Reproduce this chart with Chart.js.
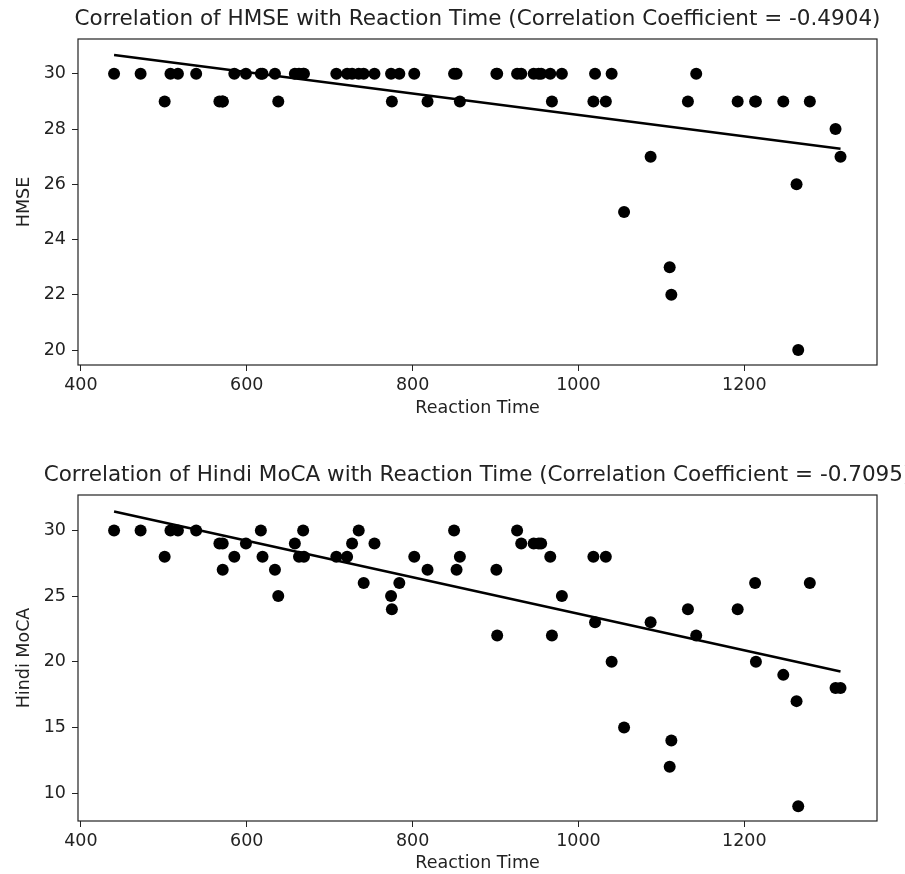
<!DOCTYPE html>
<html>
<head>
<meta charset="utf-8">
<script src="https://cdn.jsdelivr.net/npm/chart.js@4"></script>
<style>
  html, body { margin: 0; padding: 0; background: #fff; }
  canvas { display: block; }
</style>
</head>
<body>
<canvas id="hmseChart" width="905" height="437"></canvas>
<canvas id="mocaChart" width="905" height="437"></canvas>
<script>
// one entry per participant, same order in every array
const reactionTime = [440, 472, 501, 508, 517, 539, 567, 571, 571, 585, 599, 617, 619, 634, 638,
    658, 663, 668, 669, 708, 721, 727, 735, 741, 754, 774, 775, 784, 802, 818, 850, 853, 857,
    901, 902, 926, 931, 946, 952, 955, 966, 968, 980, 1018, 1020, 1033, 1040, 1055, 1087, 1110,
    1112, 1132, 1142, 1192, 1213, 1214, 1247, 1263, 1265, 1279, 1310, 1316];
const hmse = [30, 30, 29, 30, 30, 30, 29, 29, 29, 30, 30, 30, 30, 30, 29,
    30, 30, 30, 30, 30, 30, 30, 30, 30, 30, 30, 29, 30, 30, 29, 30, 30, 29,
    30, 30, 30, 30, 30, 30, 30, 30, 29, 30, 29, 30, 29, 30, 25, 27, 23,
    22, 29, 30, 29, 29, 29, 29, 26, 20, 29, 28, 27];
const hindiMoca = [30, 30, 28, 30, 30, 30, 29, 29, 27, 28, 29, 30, 28, 27, 25,
    29, 28, 30, 28, 28, 28, 29, 30, 26, 29, 25, 24, 26, 28, 27, 30, 27, 28,
    27, 22, 30, 29, 29, 29, 29, 28, 22, 25, 28, 23, 28, 20, 15, 23, 12,
    14, 24, 22, 24, 26, 20, 19, 17, 9, 26, 18, 18];

const xTicks = [400, 600, 800, 1000, 1200];
const hmseTicks = [20, 22, 24, 26, 28, 30];
const mocaTicks = [10, 15, 20, 25, 30];

const hmseTitle = 'Correlation of HMSE with Reaction Time (Correlation Coefficient = -0.4904)';
const mocaTitle = 'Correlation of Hindi MoCA with Reaction Time (Correlation Coefficient = -0.7095)';

const FONT = '"DejaVu Sans", sans-serif';
const INK = '#222';

// least squares line through the points, like np.polyfit(x, y, 1)
function fitLine(xs, ys) {
    const n = xs.length;
    const mx = xs.reduce((a, b) => a + b, 0) / n;
    const my = ys.reduce((a, b) => a + b, 0) / n;
    let sxy = 0, sxx = 0;
    xs.forEach((x, i) => { sxy += (x - mx) * (ys[i] - my); sxx += (x - mx) * (x - mx); });
    const m = sxy / sxx;
    const b = my - m * mx;
    const lo = Math.min(...xs), hi = Math.max(...xs);
    return [{ x: lo, y: m * lo + b }, { x: hi, y: m * hi + b }];
}

// matplotlib style frame + title centred over the axes
const framePlugin = {
    id: 'frame',
    afterDraw(chart, args, opts) {
        const { ctx, chartArea: a } = chart;
        ctx.save();
        ctx.strokeStyle = INK;
        ctx.lineWidth = 1.2;
        ctx.strokeRect(a.left, a.top, a.right - a.left, a.bottom - a.top);
        ctx.fillStyle = INK;
        ctx.font = '21.5px ' + FONT;
        ctx.textAlign = 'center';
        ctx.textBaseline = 'middle';
        ctx.fillText(opts.text, (a.left + a.right) / 2, a.top - 20);
        ctx.restore();
    }
};

function makeChart(id, yValues, yTicks, yMin, yMax, yLabel, title, topPad, bottomPad, xHeight) {
    const points = reactionTime.map((x, i) => ({ x: x, y: yValues[i] }));
    new Chart(document.getElementById(id), {
        type: 'scatter',
        data: {
            datasets: [
                {
                    data: points,
                    backgroundColor: '#000',
                    borderWidth: 0,
                    pointRadius: 6,
                    pointHoverRadius: 6,
                },
                {
                    type: 'line',
                    data: fitLine(reactionTime, yValues),
                    borderColor: '#000',
                    borderWidth: 2.5,
                    pointRadius: 0,
                    fill: false,
                },
            ],
        },
        options: {
            responsive: false,
            animation: false,
            layout: { padding: { top: topPad, right: 28, bottom: bottomPad, left: 14 } },
            plugins: {
                legend: { display: false },
                tooltip: { enabled: false },
                frame: { text: title },
            },
            scales: {
                x: {
                    type: 'linear',
                    min: 396.5,
                    max: 1360,
                    afterBuildTicks: (s) => { s.ticks = xTicks.map(v => ({ value: v })); },
                    afterFit: (s) => { s.height = xHeight; },
                    grid: { drawOnChartArea: false, drawTicks: true, tickLength: 6, color: INK },
                    border: { display: false },
                    ticks: {
                        color: INK, padding: 4, maxRotation: 0,
                        font: { family: FONT, size: 17.5 },
                        callback: (v) => String(v),
                    },
                    title: {
                        display: true,
                        text: 'Reaction Time',
                        color: INK,
                        padding: { top: 0, bottom: 0 },
                        font: { family: FONT, size: 17.5 },
                    },
                },
                y: {
                    type: 'linear',
                    min: yMin,
                    max: yMax,
                    afterBuildTicks: (s) => { s.ticks = yTicks.map(v => ({ value: v })); },
                    afterFit: (s) => { s.width = 64; },
                    grid: { drawOnChartArea: false, drawTicks: true, tickLength: 6, color: INK },
                    border: { display: false },
                    ticks: {
                        color: INK, padding: 6,
                        font: { family: FONT, size: 17.5 },
                        callback: (v) => String(v),
                    },
                    title: {
                        display: true,
                        text: yLabel,
                        color: INK,
                        padding: { top: 0, bottom: 0 },
                        font: { family: FONT, size: 17.5 },
                    },
                },
            },
        },
        plugins: [framePlugin],
    });
}

makeChart('hmseChart', hmse, hmseTicks, 19.46, 31.26, 'HMSE', hmseTitle, 39, 18, 54);
makeChart('mocaChart', hindiMoca, mocaTicks, 7.87, 32.7, 'Hindi MoCA', mocaTitle, 58, 0, 53);
</script>
</body>
</html>
